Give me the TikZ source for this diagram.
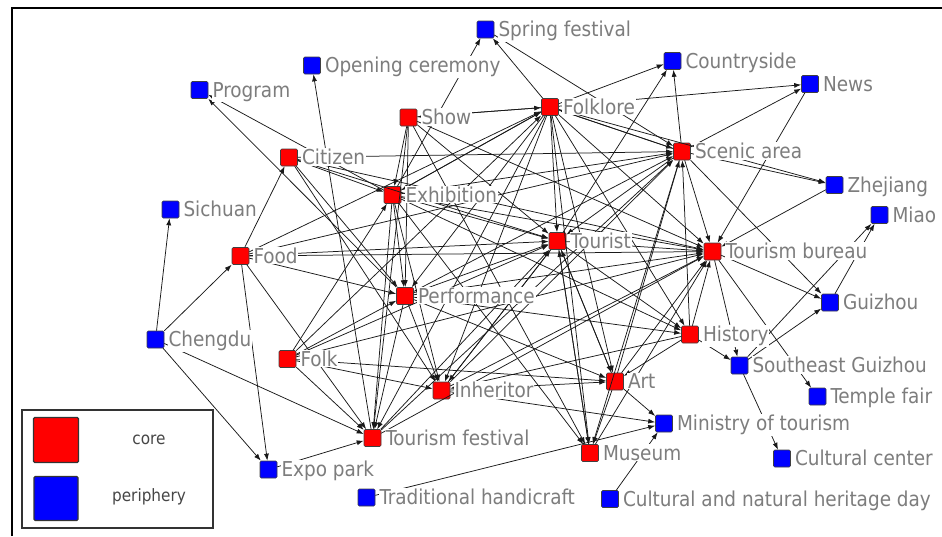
\documentclass[tikz,border=0pt]{standalone}
\usepackage{fontspec}
\setmainfont{DejaVu Sans Condensed}
\usetikzlibrary{arrows.meta}
\definecolor{lblgray}{RGB}{125,125,125}
\definecolor{leggray}{RGB}{70,70,70}
\definecolor{corered}{RGB}{255,0,0}
\definecolor{periblue}{RGB}{0,0,255}
\begin{document}
\begin{tikzpicture}[x=1pt,y=-1pt,
  sq/.style={minimum size=17pt, inner sep=0pt, draw=black!75, line width=0.6pt, rounded corners=1.2pt},
  core/.style={sq, fill=corered},
  peri/.style={sq, fill=periblue},
  lbl/.style={anchor=base west, text=lblgray, fill=white, inner sep=0.8pt, font=\fontsize{20.5}{22}\selectfont},
  legtxt/.style={text=leggray, font=\fontsize{17}{19}\selectfont},
  edge/.style={draw=black!90, line width=0.75pt, -{Latex[length=7pt,width=5pt]}}]

\useasboundingbox (0,0) rectangle (942,536);

% frame
\draw[line width=1.6pt] (12,536) -- (12,8) -- (942,8);

% nodes
\foreach \n/\x/\y/\t in {
  spring/485.5/29.5/peri, opening/312/65.5/peri, program/199.5/90/peri,
  countryside/672.5/61/peri, news/810/84/peri, show/408.5/117.5/core,
  folklore/550/107/core, citizen/289/157.5/core, scenic/682/151.5/core,
  zhejiang/834.5/185/peri, exhibition/392.5/195/core, sichuan/170.5/209.5/peri,
  miao/879.5/215/peri, food/240.5/256/core, tourist/557.5/241/core,
  bureau/712.5/251.5/core, performance/405/296/core, guizhou/830/302.5/peri,
  chengdu/155.5/339.5/peri, history/690/334.5/core, folk/287.5/359/core,
  seguizhou/739.5/365.5/peri, inheritor/441.5/390.5/core, art/615/381.5/core,
  temple/817.5/396.5/peri, ministry/664/423.5/peri, tfestival/372.5/438/core,
  museum/590/453/core, culturalcenter/782/458.5/peri, expo/268.5/469.5/peri,
  handicraft/366.5/497.5/peri, heritage/610/499/peri}
  \node[\t] (\n) at (\x,\y) {};

% connectors
\foreach \a/\b in {
  exhibition/spring, folklore/spring, spring/scenic, tfestival/opening,
  performance/program, exhibition/program, folklore/countryside, scenic/countryside,
  tourist/countryside, folklore/news, scenic/news, news/bureau,
  scenic/zhejiang, folklore/zhejiang, zhejiang/bureau, guizhou/miao, seguizhou/miao,
  bureau/guizhou, scenic/guizhou, seguizhou/guizhou, chengdu/sichuan, chengdu/food,
  chengdu/expo, chengdu/tfestival, food/expo, expo/tfestival, handicraft/ministry,
  heritage/ministry, art/ministry, inheritor/ministry, seguizhou/culturalcenter,
  bureau/temple, bureau/seguizhou, history/seguizhou,
  show/folklore, folklore/show, show/exhibition, show/performance, show/bureau,
  show/tourist, citizen/scenic, citizen/exhibition, citizen/tourist, citizen/bureau,
  citizen/inheritor, food/citizen, food/folklore, food/tourist, food/bureau,
  food/performance, food/tfestival, food/scenic, folklore/scenic, scenic/folklore,
  folklore/tourist, folklore/bureau, folklore/art, folklore/museum, folklore/history,
  folklore/inheritor, folklore/performance, folklore/exhibition, folklore/tfestival,
  folk/folklore, exhibition/folklore, exhibition/scenic, exhibition/tourist,
  exhibition/bureau, exhibition/performance, exhibition/inheritor, exhibition/tfestival,
  exhibition/history, exhibition/museum, folk/exhibition, folk/performance,
  folk/tfestival, folk/inheritor, folk/art, folk/tourist, folk/bureau,
  performance/inheritor, performance/tfestival, performance/art, performance/history,
  performance/bureau, performance/scenic, performance/tourist, citizen/performance,
  tourist/bureau, tourist/art, tourist/museum, tourist/history, tourist/inheritor,
  scenic/bureau, scenic/tourist, scenic/museum, art/scenic, art/bureau, art/tourist,
  art/museum, history/bureau, history/art, history/scenic, history/inheritor,
  inheritor/art, inheritor/tourist, inheritor/bureau, inheritor/scenic,
  museum/bureau, museum/tourist, tfestival/bureau, tfestival/tourist,
  tfestival/scenic, show/tfestival, show/museum}
  \draw[edge] (\a) -- (\b);

% labels
\foreach \n/\s in {
  spring/Spring festival, opening/Opening ceremony, program/Program,
  countryside/Countryside, news/News, show/Show, folklore/Folklore,
  citizen/Citizen, scenic/Scenic area, zhejiang/Zhejiang, exhibition/Exhibition,
  sichuan/Sichuan, miao/Miao, food/Food, tourist/Tourist, bureau/Tourism bureau,
  performance/Performance, guizhou/Guizhou, chengdu/Chengdu, history/History,
  folk/Folk, seguizhou/Southeast Guizhou, inheritor/Inheritor, art/Art,
  temple/Temple fair, ministry/Ministry of tourism, tfestival/Tourism festival,
  museum/Museum, culturalcenter/Cultural center, expo/Expo park,
  handicraft/Traditional handicraft, heritage/Cultural and natural heritage day}
  \node[lbl] (\n-l) at ([xshift=3.2pt,yshift=-7pt]\n.east) {\s};

% legend
\node[draw=black!80, line width=1.2pt, minimum width=191pt, minimum height=118pt, inner sep=0pt] (legend) at (117.5,469) {};
\node[sq, fill=corered, minimum size=45pt, line width=1.2pt, draw=black!80] (legcore) at (56,440) {};
\node[sq, fill=periblue, minimum size=44pt, line width=1.2pt, draw=black!80] (legperi) at (56,498.5) {};
\node[legtxt] (legcoretxt) at (149,440) {core};
\node[legtxt] (legperitxt) at (149,497) {periphery};
\end{tikzpicture}
\end{document}
